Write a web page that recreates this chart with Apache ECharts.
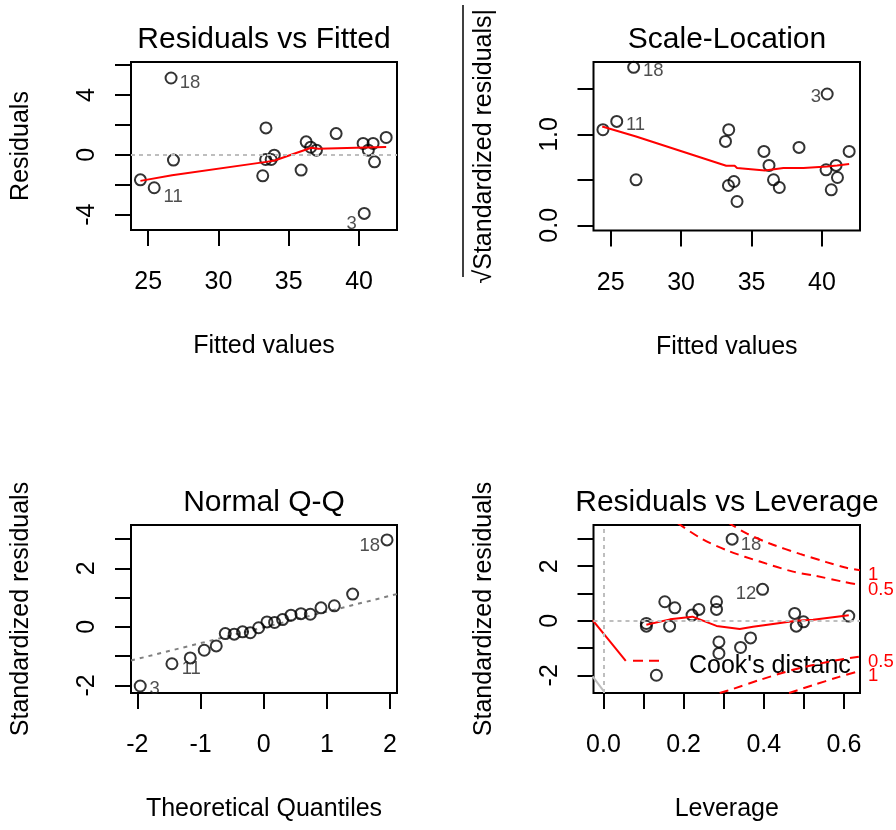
<!DOCTYPE html>
<html>
<head>
<meta charset="utf-8">
<title>lm diagnostics</title>
<script src="https://cdn.jsdelivr.net/npm/echarts@6/dist/echarts.min.js"></script>
<style>
  html, body { margin: 0; padding: 0; background: #fff; }
  #chart { width: 896px; height: 830px; }
</style>
</head>
<body>
<div id="chart"></div>
<script>

// residuals vs fitted / scale-location (same order)
var fitted       = [26.63, 26.80, 24.45, 25.43, 33.38, 33.15, 33.36, 33.75, 33.97, 35.88,
                    36.24, 36.56, 36.97, 38.37, 40.29, 41.00, 40.66, 41.10, 41.93, 40.37];
var residuals    = [5.13, -0.35, -1.67, -2.20, 1.80, -1.40, -0.31, -0.31, -0.02, -1.02,
                    0.87, 0.51, 0.31, 1.42, 0.76, 0.76, 0.31, -0.47, 1.16, -3.91];
var sqrtStdResid = [1.738, 0.501, 1.052, 1.143, 1.052, 0.923, 0.438, 0.482, 0.262, 0.813,
                    0.659, 0.501, 0.416, 0.857, 0.611, 0.659, 0.391, 0.526, 0.813, 1.445];
var fittedIds = {0: '18', 3: '11', 19: '3'};

var smooth1X = [24.45, 26.7, 33.4, 34.0, 36.6, 37.1, 40.5, 41.93];
var smooth1Y = [-1.74, -1.36, -0.47, -0.38, 0.47, 0.40, 0.49, 0.53];
var smooth2X = [24.4, 26.8, 33.2, 33.8, 33.97, 35.95, 37.26, 38.69, 40.36, 41.07, 41.93];
var smooth2Y = [1.088, 0.978, 0.655, 0.655, 0.63, 0.603, 0.63, 0.63, 0.648, 0.659, 0.674];

// normal Q-Q
var qqTheoretical = [-1.954, -1.452, -1.162, -0.941, -0.751, -0.608, -0.466, -0.334, -0.212, -0.08,
                     0.052, 0.173, 0.299, 0.432, 0.59, 0.738, 0.907, 1.118, 1.408, 1.952];
var qqSample      = [-2.02, -1.26, -1.06, -0.80, -0.65, -0.23, -0.25, -0.17, -0.20, -0.03,
                     0.17, 0.15, 0.25, 0.40, 0.45, 0.43, 0.65, 0.72, 1.12, 2.97];
var qqIds = {0: '3', 1: '11', 19: '18'};
var qqLineX = [-2.1, 2.11];
var qqLineY = [-1.15, 1.12];

// residuals vs leverage
var leverage    = [0.321, 0.397, 0.153, 0.178, 0.107, 0.107, 0.165, 0.221, 0.238, 0.282,
                   0.282, 0.288, 0.288, 0.342, 0.367, 0.477, 0.481, 0.499, 0.612, 0.132];
var levStdResid = [2.99, 1.15, 0.695, 0.474, -0.10, -0.20, -0.20, 0.206, 0.415, 0.695,
                   0.415, -0.776, -1.20, -0.98, -0.63, 0.268, -0.20, -0.04, 0.17, -2.00];
var leverageIds = {0: '18', 1: '12'};
var smooth4X = [0.107, 0.166, 0.222, 0.24, 0.282, 0.34, 0.373, 0.432, 0.481, 0.523, 0.612];
var smooth4Y = [-0.15, 0.05, 0.15, 0.05, -0.19, -0.30, -0.22, -0.10, 0.0, 0.04, 0.20];

var cookHalfUpX = [0.185, 0.248, 0.315, 0.39, 0.473, 0.531, 0.598, 0.64];
var cookHalfUpY = [3.58, 2.98, 2.54, 2.17, 1.8, 1.64, 1.43, 1.31];
var cookOneUpX  = [0.311, 0.357, 0.415, 0.49, 0.556, 0.606, 0.64];
var cookOneUpY  = [3.6, 3.2, 2.83, 2.45, 2.15, 1.94, 1.85];
var cookHalfLoX = [0.29, 0.323, 0.39, 0.473, 0.556, 0.64];
var cookHalfLoY = [-2.65, -2.5, -2.17, -1.8, -1.52, -1.31];
var cookOneLoX  = [0.463, 0.521, 0.588, 0.64];
var cookOneLoY  = [-2.65, -2.37, -2.06, -1.84];
var redPathX  = [-0.027, 0.0556];
var redPathY  = [0.02, -1.47];
var grayPathX = [-0.027, 0.0015];
var grayPathY = [-2.04, -2.6];

var FONT = '"Liberation Sans", Arial, Helvetica, sans-serif';
var RED = '#ff0000';

// label offsets (px, from point centre)
var offsets1 = {0: [19, 5], 3: [19, 9.5], 19: [-12.7, 11]};
var offsets2 = {0: [19.7, 4], 3: [18.8, 3.3], 19: [-11.4, 3]};
var offsets3 = {0: [14.3, 3.3], 1: [19.3, 4.7], 19: [-17.2, 5.5]};
var offsets4 = {0: [18.8, 6], 1: [-16.5, 5]};

function zip(xs, ys) {
  return xs.map(function (x, i) { return [x, ys[i]]; });
}

function points(xs, ys, ids, offs) {
  return xs.map(function (x, i) {
    var item = {value: [x, ys[i]]};
    if (ids[i] !== undefined) {
      item.label = {
        show: true, formatter: ids[i], position: 'inside', offset: offs[i],
        fontSize: 18.5, color: '#222', fontFamily: FONT
      };
    }
    return item;
  });
}

function axis(gridIndex, min, max, ticks, labels, name, decimals, isY) {
  return {
    type: 'value', gridIndex: gridIndex, min: min, max: max,
    name: name, nameLocation: 'middle', nameGap: isY ? 97 : 104,
    nameTextStyle: {fontSize: 25, color: '#000', fontFamily: FONT},
    axisLine: {show: false, onZero: false},
    axisTick: {show: true, inside: false, length: 16, customValues: ticks,
               lineStyle: {color: '#000', width: 2}},
    axisLabel: {
      show: true, customValues: labels, rotate: isY ? 90 : 0, margin: isY ? 31 : 40,
      fontSize: 25, color: '#000', fontFamily: FONT,
      formatter: function (v) { return decimals ? v.toFixed(decimals) : String(v); }
    },
    splitLine: {show: false}
  };
}

function scatter(idx, data) {
  return {
    type: 'scatter', xAxisIndex: idx, yAxisIndex: idx, data: data,
    symbol: 'circle', symbolSize: 11, z: 2,
    itemStyle: {color: 'rgba(0,0,0,0)', borderColor: '#000', borderWidth: 2}
  };
}

function line(idx, xs, ys, color, type, extra) {
  var s = {
    type: 'line', xAxisIndex: idx, yAxisIndex: idx, data: zip(xs, ys),
    showSymbol: false, symbol: 'none', z: 3, silent: true,
    lineStyle: {color: color, width: 2, type: type}
  };
  for (var k in extra) s[k] = extra[k];
  return s;
}

function zeroLine(data) {
  return {
    silent: true, symbol: 'none', label: {show: false},
    lineStyle: {color: '#bebebe', width: 2, type: [4, 4]},
    data: data
  };
}

function cookLabel(text) {
  return {show: true, formatter: text, color: RED, fontSize: 18.5, fontFamily: FONT,
          distance: 8, offset: [0, 5]};
}

var gridBase = {show: true, borderColor: '#000', borderWidth: 2, containLabel: false};

var chart = echarts.init(document.getElementById('chart'));
chart.setOption({
  animation: false,
  backgroundColor: '#fff',
  textStyle: {fontFamily: FONT},
  grid: [
    Object.assign({left: 131, top: 62, width: 266, height: 168}, gridBase),
    Object.assign({left: 593.5, top: 62, width: 266.5, height: 168.5}, gridBase),
    Object.assign({left: 131, top: 525, width: 266, height: 168}, gridBase),
    Object.assign({left: 593.5, top: 525, width: 266.5, height: 168}, gridBase)
  ],
  xAxis: [
    axis(0, 23.78, 42.7, [25, 30, 35, 40], [25, 30, 35, 40], 'Fitted values', 0, false),
    axis(1, 23.78, 42.7, [25, 30, 35, 40], [25, 30, 35, 40], 'Fitted values', 0, false),
    axis(2, -2.1, 2.11, [-2, -1, 0, 1, 2], [-2, -1, 0, 1, 2], 'Theoretical Quantiles', 0, false),
    axis(3, -0.0249, 0.64, [0, 0.1, 0.2, 0.3, 0.4, 0.5, 0.6], [0, 0.2, 0.4, 0.6], 'Leverage', 1, false)
  ],
  yAxis: [
    axis(0, -5.02, 6.2, [-4, -2, 0, 2, 4, 6], [-4, 0, 4], 'Residuals', 0, true),
    axis(1, -0.057, 1.797, [0, 0.5, 1, 1.5], [0, 1], '\u221aStandardized residuals|', 1, true),
    axis(2, -2.26, 3.48, [-2, -1, 0, 1, 2, 3], [-2, 0, 2], 'Standardized residuals', 0, true),
    axis(3, -2.65, 3.51, [-2, -1, 0, 1, 2, 3], [-2, 0, 2], 'Standardized residuals', 0, true)
  ],
  series: [
    Object.assign(scatter(0, points(fitted, residuals, fittedIds, offsets1)),
                  {markLine: zeroLine([{yAxis: 0}])}),
    line(0, smooth1X, smooth1Y, RED, 'solid'),

    scatter(1, points(fitted, sqrtStdResid, fittedIds, offsets2)),
    line(1, smooth2X, smooth2Y, RED, 'solid'),

    scatter(2, points(qqTheoretical, qqSample, qqIds, offsets3)),
    line(2, qqLineX, qqLineY, '#808080', [4, 5], {z: 1}),

    Object.assign(scatter(3, points(leverage, levStdResid, leverageIds, offsets4)),
                  {markLine: zeroLine([{yAxis: 0}, {xAxis: 0}])}),
    line(3, smooth4X, smooth4Y, RED, 'solid'),
    line(3, cookHalfUpX, cookHalfUpY, RED, [9, 6], {smooth: 0.3, endLabel: cookLabel('0.5')}),
    line(3, cookOneUpX, cookOneUpY, RED, [9, 6], {smooth: 0.3, endLabel: cookLabel('1')}),
    line(3, cookHalfLoX, cookHalfLoY, RED, [9, 6], {smooth: 0.3, endLabel: cookLabel('0.5')}),
    line(3, cookOneLoX, cookOneLoY, RED, [9, 6], {smooth: 0.3, endLabel: cookLabel('1')}),
    line(3, redPathX, redPathY, RED, 'solid'),
    line(3, grayPathX, grayPathY, '#bdbdbd', 'solid')
  ],
  graphic: [
    {type: 'text', x: 264, y: 40, style: {text: 'Residuals vs Fitted', fontSize: 30, fontFamily: FONT,
      fill: '#000', textAlign: 'center', textVerticalAlign: 'middle'}},
    {type: 'text', x: 727, y: 40, style: {text: 'Scale-Location', fontSize: 30, fontFamily: FONT,
      fill: '#000', textAlign: 'center', textVerticalAlign: 'middle'}},
    {type: 'text', x: 264, y: 503, style: {text: 'Normal Q-Q', fontSize: 30, fontFamily: FONT,
      fill: '#000', textAlign: 'center', textVerticalAlign: 'middle'}},
    {type: 'text', x: 727, y: 503, style: {text: 'Residuals vs Leverage', fontSize: 30, fontFamily: FONT,
      fill: '#000', textAlign: 'center', textVerticalAlign: 'middle'}},
    // sqrt bar over the y label
    {type: 'line', shape: {x1: 463, y1: 5, x2: 463, y2: 277}, style: {stroke: '#000', lineWidth: 1.5}},
    // Cook's distance legend
    {type: 'line', shape: {x1: 633, y1: 660.7, x2: 659, y2: 660.7},
      style: {stroke: RED, lineWidth: 2, lineDash: [10, 6]}},
    {type: 'text', x: 689, y: 666, style: {text: "Cook's distance", fontSize: 25, fontFamily: FONT,
      fill: '#000', textVerticalAlign: 'middle', width: 171, overflow: 'truncate', ellipsis: ''}}
  ]
});
</script>
</body>
</html>
